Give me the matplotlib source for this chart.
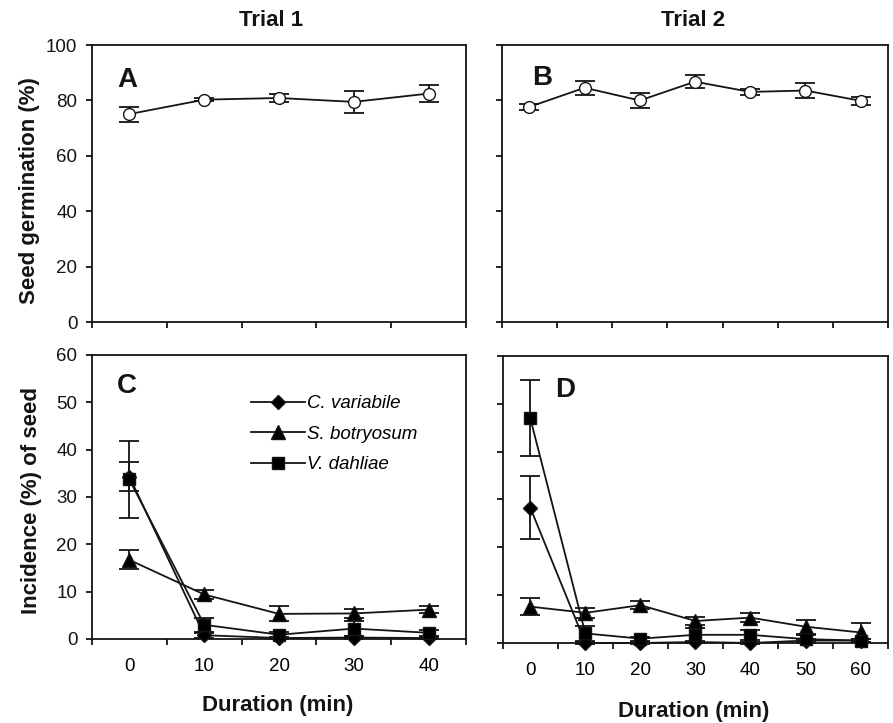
import numpy as np
import matplotlib
matplotlib.use("Agg")
import matplotlib.pyplot as plt

plt.rcParams.update({
    "font.family": ["Liberation Sans", "DejaVu Sans"],
    "axes.linewidth": 1.3,
    "xtick.major.width": 1.3, "ytick.major.width": 1.3,
    "xtick.major.size": 4.5, "ytick.major.size": 4.5,
    "xtick.labelsize": 13.5, "ytick.labelsize": 13.5,
})
INK = "#141414"

# ---- data ----
dur1 = [0, 10, 20, 30, 40]
dur2 = [0, 10, 20, 30, 40, 50, 60]

germ1 = [75.1, 80.3, 80.9, 79.5, 82.5]
germ1_err = [2.7, 0.6, 1.5, 3.9, 3.2]
germ2 = [77.7, 84.6, 80.0, 86.8, 83.1, 83.6, 79.9]
germ2_err = [1.0, 2.5, 2.8, 2.3, 1.0, 2.7, 1.5]

cv1 = [34.3, 0.8, 0.2, 0.3, 0.2]
cv1_err = [3.0, 0.5, 0.3, 0.3, 0.3]
sb1 = [16.7, 9.4, 5.3, 5.4, 6.2]
sb1_err = [2.0, 1.0, 1.6, 1.0, 0.8]
vd1 = [33.7, 3.0, 0.9, 2.2, 1.3]
vd1_err = [8.1, 1.5, 0.6, 1.5, 0.7]

cv2 = [28.3, 0.0, 0.0, 0.2, 0.0, 0.5, 0.5]
cv2_err = [6.6, 0.2, 0.2, 0.3, 0.2, 0.4, 0.4]
sb2 = [7.6, 6.3, 7.9, 4.6, 5.3, 3.4, 2.2]
sb2_err = [1.8, 1.0, 0.8, 0.8, 1.0, 1.5, 1.9]
vd2 = [47.0, 2.0, 0.9, 1.7, 1.7, 0.8, 0.5]
vd2_err = [8.0, 1.5, 0.4, 1.5, 1.0, 0.9, 0.4]

SPECIES = ["C. variabile", "S. botryosum", "V. dahliae"]


def setup_cat_axis(ax, labels, show_labels):
    n = len(labels)
    ax.set_xlim(-0.5, n - 0.5)
    ax.set_xticks(np.arange(-0.5, n, 1.0))
    ax.set_xticklabels([])
    ax.set_xticks(np.arange(n), minor=True)
    if show_labels:
        ax.set_xticklabels([str(v) for v in labels], minor=True)
    ax.tick_params(axis="x", which="minor", length=0, pad=14)
    ax.tick_params(axis="both", which="major", direction="out", colors=INK,
                   pad=6)
    for s in ax.spines.values():
        s.set_color(INK)


def eb(ax, y, err, marker, ms, mfc="black", label=None):
    x = np.arange(len(y))
    ax.errorbar(x, y, yerr=err, fmt="-", marker=marker, ms=ms, mfc=mfc,
                mec=INK, color=INK, ecolor=INK, lw=1.3, elinewidth=1.3,
                capsize=7, capthick=1.3, label=label, clip_on=False, zorder=3)


fig = plt.figure(figsize=(8.93, 7.23), dpi=100)
axA = fig.add_axes([0.103, 0.5546, 0.419, 0.383])
axB = fig.add_axes([0.562, 0.5546, 0.4325, 0.383])
axC = fig.add_axes([0.103, 0.1162, 0.419, 0.3928])
axD = fig.add_axes([0.563, 0.1107, 0.4315, 0.3969])

# germination
eb(axA, germ1, germ1_err, "o", 8.5, mfc="white")
eb(axB, germ2, germ2_err, "o", 8.5, mfc="white")
for ax in (axA, axB):
    ax.set_ylim(0, 100)
    ax.set_yticks(np.arange(0, 101, 20))
setup_cat_axis(axA, dur1, False)
setup_cat_axis(axB, dur2, False)
axB.set_yticklabels([])

# incidence
for ax, cv, cve, sb, sbe, vd, vde, dur in [
        (axC, cv1, cv1_err, sb1, sb1_err, vd1, vd1_err, dur1),
        (axD, cv2, cv2_err, sb2, sb2_err, vd2, vd2_err, dur2)]:
    eb(ax, cv, cve, "D", 7.5, label=SPECIES[0])
    eb(ax, sb, sbe, "^", 10, label=SPECIES[1])
    eb(ax, vd, vde, "s", 8.5, label=SPECIES[2])
    ax.set_ylim(0, 60)
    ax.set_yticks(np.arange(0, 61, 10))
    setup_cat_axis(ax, dur, True)
axD.set_yticklabels([])

h, l = axC.get_legend_handles_labels()
h = [hh[0] for hh in h]
axC.legend(h, l, loc="upper left", bbox_to_anchor=(0.39, 0.905),
           frameon=False, handlelength=2.9, handletextpad=0.1,
           labelspacing=0.72, borderpad=0.2,
           prop={"size": 13.5, "style": "italic"})

for ax, letter, x, y in [(axA, "A", 0.067, 0.92), (axB, "B", 0.078, 0.928),
                         (axC, "C", 0.067, 0.937), (axD, "D", 0.135, 0.927)]:
    ax.text(x, y, letter, transform=ax.transAxes, ha="left", va="top",
            fontsize=20, fontweight="bold", color=INK)

W, H = 893, 723
fig.text(271 / W, 1 - 20 / H, "Trial 1", ha="center", va="center",
         fontsize=16, fontweight="bold", color=INK)
fig.text(693 / W, 1 - 20 / H, "Trial 2", ha="center", va="center",
         fontsize=16, fontweight="bold", color=INK)
fig.text(30 / W, 1 - 191 / H, "Seed germination (%)", rotation=90,
         ha="center", va="center", fontsize=16, fontweight="bold", color=INK)
fig.text(32 / W, 1 - 501 / H, "Incidence (%) of seed", rotation=90,
         ha="center", va="center", fontsize=16, fontweight="bold", color=INK)
fig.text(278 / W, 1 - 705 / H, "Duration (min)", ha="center", va="center",
         fontsize=16, fontweight="bold", color=INK)
fig.text(694 / W, 1 - 712 / H, "Duration (min)", ha="center", va="center",
         fontsize=16, fontweight="bold", color=INK)

fig.savefig("out.png", dpi=100, facecolor="white")
